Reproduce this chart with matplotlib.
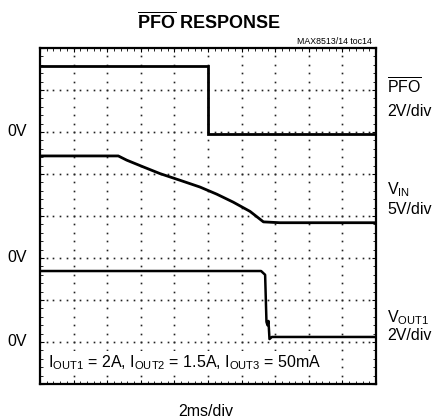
import numpy as np
import matplotlib
matplotlib.use('Agg')
import matplotlib.pyplot as plt
from matplotlib.ticker import MultipleLocator

plt.rcParams['font.family'] = ['Liberation Sans', 'DejaVu Sans']
plt.rcParams['mathtext.fontset'] = 'custom'
plt.rcParams['mathtext.rm'] = 'Liberation Sans'
plt.rcParams['mathtext.it'] = 'Liberation Sans'
plt.rcParams['mathtext.bf'] = 'Liberation Sans:bold'

# traces, in scope divisions (x: 10 div of 2ms, y: 8 div)
pfo_t = [0.0, 5.0, 5.0, 10.0]
pfo_v = [7.57, 7.57, 5.95, 5.95]

vin_t = [0.0, 2.33, 2.58, 3.07, 3.57, 4.17, 4.76, 5.26, 5.75, 6.25, 6.65, 7.14, 10.0]
vin_v = [5.43, 5.43, 5.33, 5.17, 5.01, 4.85, 4.69, 4.52, 4.33, 4.11, 3.86, 3.84, 3.84]

vout_t = [0.0, 6.58, 6.70, 6.74, 6.77, 6.80, 6.83, 6.90, 10.0]
vout_v = [2.69, 2.69, 2.60, 1.48, 1.40, 1.50, 1.07, 1.12, 1.12]

zero_levels = [6.0, 3.0, 1.0]

fig = plt.figure(figsize=(4.32, 4.2), dpi=100)
ax = fig.add_axes([40 / 432, 1 - 384 / 420, 336 / 432, 336 / 420])
ax.set_xlim(0, 10)
ax.set_ylim(0, 8)

# graticule dots
for gx in range(1, 10):
    ys = np.arange(0, 8.01, 0.2)
    ax.plot(np.full_like(ys, gx), ys, ls='none', marker='s', ms=1.2, mew=0, color='#222222')
for gy in range(1, 8):
    xs = np.arange(0, 10.01, 0.2)
    ax.plot(xs, np.full_like(xs, gy), ls='none', marker='s', ms=1.2, mew=0, color='#222222')

ax.plot(pfo_t, pfo_v, color='black', lw=2.0, solid_joinstyle='miter')
ax.plot(vin_t, vin_v, color='black', lw=2.0)
ax.plot(vout_t, vout_v, color='black', lw=1.8)

for s in ax.spines.values():
    s.set_linewidth(1.6)
ax.xaxis.set_minor_locator(MultipleLocator(0.2))
ax.yaxis.set_minor_locator(MultipleLocator(0.2))
ax.xaxis.set_major_locator(MultipleLocator(1))
ax.yaxis.set_major_locator(MultipleLocator(1))
ax.tick_params(which='both', direction='in', top=True, right=True,
               labelbottom=False, labelleft=False)
ax.tick_params(which='major', length=3, width=0.8)
ax.tick_params(which='minor', length=2, width=0.6)

fig.text(209 / 432, 1 - 22 / 420, r'$\mathbf{\overline{PFO}}$ RESPONSE',
         ha='center', va='center', fontsize=13, fontweight='bold')
fig.text(372 / 432, 1 - 42 / 420, 'MAX8513/14 toc14', ha='right', va='center', fontsize=6.3)

for lv in zero_levels:
    ax.text(-0.68, lv, '0V', ha='center', va='center', fontsize=11.5, clip_on=False)

fx = 387 / 432
fig.text(fx, 1 - 87 / 420, r'$\mathrm{\overline{PFO}}$', ha='left', va='center', fontsize=11.5)
fig.text(fx, 1 - 112 / 420, '2V/div', ha='left', va='center', fontsize=11.5)
fig.text(fx, 1 - 190 / 420, r'$\mathrm{V_{IN}}$', ha='left', va='center', fontsize=11.5)
fig.text(fx, 1 - 210 / 420, '5V/div', ha='left', va='center', fontsize=11.5)
fig.text(fx, 1 - 318 / 420, r'$\mathrm{V_{OUT1}}$', ha='left', va='center', fontsize=11.5)
fig.text(fx, 1 - 336 / 420, '2V/div', ha='left', va='center', fontsize=11.5)

ax.text(0.24, 0.52,
        r'$\mathrm{I_{OUT1}}$ = 2A, $\mathrm{I_{OUT2}}$ = 1.5A, $\mathrm{I_{OUT3}}$ = 50mA',
        ha='left', va='center', fontsize=11.5,
        bbox=dict(facecolor='white', edgecolor='none', pad=1.0))

fig.text(206 / 432, 1 - 412 / 420, '2ms/div', ha='center', va='center', fontsize=11.5)

fig.savefig('out.png', dpi=100)
